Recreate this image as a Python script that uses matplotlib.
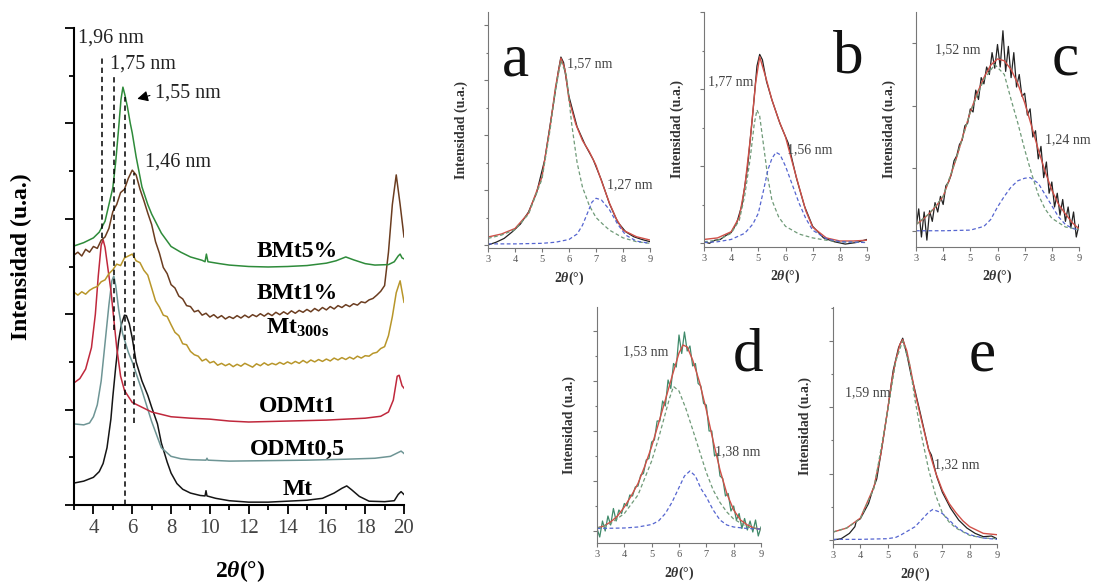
import numpy as np
import matplotlib
matplotlib.use('Agg')
import matplotlib.pyplot as plt
from matplotlib.ticker import MultipleLocator

plt.rcParams['font.family'] = ['Liberation Serif', 'DejaVu Serif']
plt.rcParams['mathtext.fontset'] = 'custom'
plt.rcParams['mathtext.rm'] = 'Liberation Serif'
plt.rcParams['mathtext.it'] = 'Liberation Serif:italic:bold'
plt.rcParams['mathtext.bf'] = 'Liberation Serif:bold'

# ---------------- main panel data (2theta, stacked intensity) ----------------
mt_x = [3.0, 3.5, 4.0, 4.3, 4.5, 4.7, 4.9, 5.0, 5.15, 5.3, 5.45, 5.6, 5.7, 5.85, 6.0, 6.2, 6.5,
        6.8, 7.0, 7.3, 7.5, 7.8, 8.0, 8.3, 8.6, 9.0, 9.5, 9.75, 9.8, 9.85, 10.3, 11, 12, 13, 14,
        15, 15.8, 16.4, 16.8, 17.05, 17.3, 17.7, 18.2, 19.0, 19.5, 19.7, 19.85, 20.0]
mt_y = [0.46, 0.5, 0.58, 0.7, 0.87, 1.2, 1.8, 2.27, 2.9, 3.45, 3.8, 3.98, 3.97, 3.8, 3.5, 3.0, 2.6,
        2.3, 2.05, 1.7, 1.3, 0.9, 0.67, 0.45, 0.33, 0.25, 0.2, 0.19, 0.3, 0.19, 0.14, 0.09, 0.06, 0.06, 0.08,
        0.1, 0.14, 0.25, 0.35, 0.4, 0.32, 0.18, 0.08, 0.07, 0.09, 0.22, 0.28, 0.22]

odmt05_x = [3.0, 3.5, 3.8, 4.0, 4.2, 4.4, 4.6, 4.8, 4.95, 5.05, 5.15, 5.3, 5.5, 5.8, 6.0, 6.5, 7.0,
            7.5, 8.0, 8.5, 9.0, 9.8, 9.85, 9.9, 11, 13, 15, 17, 18.5, 19.3, 19.7, 19.85, 20.0]
odmt05_y = [1.7, 1.68, 1.72, 1.85, 2.1, 2.6, 3.4, 4.2, 4.7, 4.8, 4.6, 4.1, 3.6, 3.2, 3.0, 2.4, 1.75,
            1.2, 1.02, 0.97, 0.95, 0.94, 0.98, 0.94, 0.92, 0.93, 0.94, 0.96, 0.98, 1.02, 1.1, 1.13, 1.08]

odmt1_x = [3.0, 3.3, 3.6, 3.9, 4.1, 4.25, 4.4, 4.5, 4.6, 4.75, 4.9, 5.05, 5.2, 5.4, 5.6, 6.0, 6.5,
           7.0, 8.0, 9.0, 10, 11, 12, 13, 14, 15, 16, 17, 18, 18.8, 19.2, 19.45, 19.65, 19.75, 19.9, 20.0]
odmt1_y = [2.56, 2.65, 2.85, 3.3, 4.0, 4.8, 5.45, 5.56, 5.4, 4.95, 4.5, 3.9, 3.3, 2.7, 2.4, 2.15, 2.05,
           1.95, 1.85, 1.82, 1.8, 1.76, 1.74, 1.75, 1.76, 1.77, 1.78, 1.8, 1.82, 1.86, 1.95, 2.2, 2.7, 2.72, 2.5, 2.45]

grid02 = np.round(np.arange(3.0, 20.01, 0.2), 1)
mt300_y = [4.46, 4.40, 4.47, 4.42, 4.50, 4.55, 4.58, 4.68, 4.72, 4.85, 4.93, 5.05, 5.02, 5.18, 5.22,
           5.26, 5.12, 5.08, 4.92, 4.82, 4.55, 4.28, 4.15, 3.98, 3.95, 3.78, 3.62, 3.55, 3.38, 3.36,
           3.22, 3.15, 3.12, 3.02, 3.06, 2.98, 3.01, 2.93, 2.97, 2.92, 2.96, 2.90, 2.95, 2.91, 2.97,
           2.93, 2.89, 2.96, 2.92, 2.98, 2.93, 2.97, 2.94, 2.99, 2.95, 3.00, 2.96, 3.01, 2.97, 3.03,
           2.98, 3.04, 3.00, 3.05, 3.01, 3.06, 3.02, 3.08, 3.04, 3.09, 3.05, 3.10, 3.06, 3.12, 3.08,
           3.13, 3.12, 3.18, 3.20, 3.28, 3.32, 3.55, 3.95, 4.45, 4.70, 4.25]
bmt1_y = [5.24, 5.30, 5.22, 5.36, 5.30, 5.42, 5.38, 5.55, 5.62, 5.80, 6.15, 6.30, 6.55, 6.62, 6.85,
          7.02, 6.92, 6.62, 6.38, 6.12, 5.88, 5.52, 5.28, 4.98, 4.85, 4.62, 4.55, 4.38, 4.32, 4.18,
          4.16, 4.05, 4.08, 3.98, 4.02, 3.94, 3.99, 3.92, 3.97, 3.90, 3.95, 3.91, 3.97, 3.92, 3.98,
          3.93, 3.99, 3.95, 4.01, 3.96, 4.02, 3.97, 4.04, 3.99, 4.05, 4.00, 4.07, 4.02, 4.08, 4.04,
          4.10, 4.05, 4.12, 4.07, 4.14, 4.09, 4.16, 4.11, 4.18, 4.14, 4.20, 4.16, 4.22, 4.19, 4.26,
          4.24, 4.30, 4.33, 4.40, 4.48, 4.60, 5.30, 6.30, 6.92, 6.30, 5.62]

bmt5_x = [3.0, 3.5, 4.0, 4.3, 4.6, 4.8, 5.0, 5.15, 5.3, 5.42, 5.52, 5.62, 5.75, 5.9, 6.0, 6.2, 6.5,
          6.8, 7.0, 7.5, 8.0, 8.5, 9.0, 9.6, 9.75, 9.82, 9.9, 10.5, 11, 12, 13, 14, 15, 16, 16.5, 17.0,
          17.4, 18.0, 18.5, 19.2, 19.5, 19.7, 19.8, 19.9, 20.0]
bmt5_y = [5.43, 5.5, 5.6, 5.72, 5.95, 6.3, 6.65, 7.2, 7.9, 8.5, 8.76, 8.6, 8.35, 8.0, 7.8, 7.3, 6.67,
          6.3, 6.1, 5.7, 5.42, 5.3, 5.2, 5.13, 5.1, 5.26, 5.1, 5.06, 5.03, 5.0, 4.99, 5.0, 5.02, 5.07, 5.12, 5.2,
          5.14, 5.06, 5.03, 5.04, 5.1, 5.22, 5.26, 5.18, 5.16]

series_names = ['BMt5%', 'BMt1%', 'Mt$_{\\mathbf{300s}}$', 'ODMt1', 'ODMt0,5', 'Mt']
series_label_y = [5.2, 4.32, 3.6, 1.95, 1.05, 0.21]
peak_lines_x = [4.44, 5.06, 5.63, 6.1]
peak_lines_top = [9.43, 8.97, 8.55, 6.96]
peak_lines_bottom = [5.6, 3.67, 0.0, 1.72]
peak_texts = ['1,96 nm', '1,75 nm', '1,55 nm', '1,46 nm']
peak_text_pos = [(3.21, 9.69), (4.86, 9.16), (7.18, 8.55), (6.66, 7.09)]

# ---------------- deconvolution panels ----------------
grid01 = np.round(np.arange(3.0, 9.01, 0.1), 1)

a_fit_x = [3.0, 3.5, 4.0, 4.5, 5.0, 5.3, 5.5, 5.7, 5.85, 6.0, 6.25, 6.5, 6.75, 7.0, 7.25, 7.5, 7.75, 8.0, 8.5, 9.0]
a_fit_y = [0.145, 0.2, 0.3, 0.58, 1.24, 2.15, 2.87, 3.4, 3.2, 2.64, 2.2, 1.9, 1.7, 1.45, 1.1, 0.76, 0.48, 0.27, 0.15, 0.09]
a_dat_x = [3.0, 3.3, 3.6, 3.9, 4.2, 4.5, 4.8, 5.1, 5.4, 5.6, 5.7, 5.8, 6.0, 6.3, 6.6, 6.9, 7.2, 7.5, 7.8, 8.1, 8.4, 8.7, 9.0]
a_dat_y = [0.0, 0.05, 0.12, 0.24, 0.38, 0.6, 0.95, 1.55, 2.5, 3.15, 3.42, 3.32, 2.7, 2.15, 1.82, 1.55, 1.18, 0.75, 0.42, 0.24, 0.15, 0.1, 0.06]
a_p1_x = [3.0, 3.5, 4.0, 4.5, 5.0, 5.3, 5.5, 5.7, 5.9, 6.1, 6.3, 6.5, 6.75, 7.0, 7.25, 7.5, 8.0, 8.5, 9.0]
a_p1_y = [0.12, 0.18, 0.28, 0.56, 1.2, 2.1, 2.82, 3.35, 3.1, 2.2, 1.5, 1.05, 0.72, 0.5, 0.38, 0.27, 0.13, 0.06, 0.03]
a_p2_x = [3.0, 4.0, 5.0, 5.5, 6.0, 6.3, 6.5, 6.7, 6.85, 7.0, 7.2, 7.5, 7.8, 8.1, 8.5, 9.0]
a_p2_y = [0.02, 0.02, 0.03, 0.05, 0.1, 0.2, 0.36, 0.6, 0.78, 0.85, 0.82, 0.64, 0.38, 0.18, 0.07, 0.03]

b_fit_x = [3.0, 3.5, 4.0, 4.3, 4.5, 4.7, 4.9, 5.05, 5.3, 5.5, 5.75, 6.0, 6.25, 6.5, 6.75, 7.0, 7.5, 8.0, 8.5, 9.0]
b_fit_y = [0.05, 0.07, 0.15, 0.34, 0.73, 1.34, 2.08, 2.42, 2.12, 1.86, 1.6, 1.38, 1.05, 0.73, 0.42, 0.21, 0.07, 0.03, 0.03, 0.04]
b_dat_x = [3.0, 3.2, 3.4, 3.6, 3.8, 4.0, 4.2, 4.4, 4.6, 4.8, 4.95, 5.05, 5.15, 5.3, 5.5, 5.8, 6.1, 6.4,
           6.7, 7.0, 7.4, 7.8, 8.2, 8.6, 9.0]
b_dat_y = [0.02, 0.0, 0.04, 0.05, 0.1, 0.14, 0.26, 0.5, 0.98, 1.7, 2.3, 2.45, 2.38, 2.1, 1.86, 1.55, 1.3, 0.85,
           0.48, 0.22, 0.07, 0.02, -0.01, 0.01, 0.05]
b_p1_x = [3.0, 3.5, 4.0, 4.3, 4.5, 4.7, 4.85, 4.95, 5.05, 5.2, 5.35, 5.5, 5.75, 6.0, 6.5, 7.0, 7.5, 8.0, 9.0]
b_p1_y = [0.02, 0.04, 0.13, 0.3, 0.62, 1.1, 1.55, 1.73, 1.65, 1.25, 0.85, 0.56, 0.34, 0.22, 0.12, 0.07, 0.04, 0.02, 0.01]
b_p2_x = [3.0, 3.5, 4.0, 4.5, 4.8, 5.0, 5.2, 5.35, 5.5, 5.65, 5.8, 6.0, 6.25, 6.5, 6.75, 7.0, 7.5, 8.0, 9.0]
b_p2_y = [0.01, 0.02, 0.05, 0.13, 0.25, 0.39, 0.7, 0.95, 1.1, 1.18, 1.15, 1.0, 0.76, 0.52, 0.32, 0.17, 0.06, 0.02, 0.01]

c_fit_x = [3.0, 3.25, 3.5, 3.75, 4.0, 4.25, 4.5, 4.75, 5.0, 5.25, 5.5, 5.75, 6.0, 6.25, 6.5, 6.75, 7.0,
           7.25, 7.5, 7.75, 8.0, 8.25, 8.5, 8.75, 9.0]
c_fit_y = [0.1, 0.18, 0.28, 0.4, 0.55, 0.85, 1.18, 1.55, 1.9, 2.2, 2.45, 2.65, 2.75, 2.72, 2.58, 2.35, 2.05,
           1.68, 1.3, 0.95, 0.65, 0.42, 0.27, 0.13, 0.03]
c_dat_y = [0.05, 0.35, -0.1, 0.3, -0.15, 0.32, 0.15, 0.45, 0.3, 0.55, 0.42, 0.72, 0.78, 0.9, 1.12, 1.2,
           1.38, 1.45, 1.68, 1.72, 1.95, 1.9, 2.25, 2.1, 2.45, 2.35, 2.62, 2.5, 2.85, 2.6, 2.98, 2.62,
           3.2, 2.55, 2.95, 2.45, 2.85, 2.3, 2.5, 2.15, 2.2, 1.85, 1.95, 1.5, 1.6, 1.15, 1.35, 0.85,
           1.1, 0.6, 0.78, 0.38, 0.6, 0.25, 0.5, 0.15, 0.38, 0.05, 0.3, -0.1, 0.1]
c_p1_x = [3.0, 3.5, 4.0, 4.5, 5.0, 5.5, 5.9, 6.25, 6.5, 6.75, 7.0, 7.25, 7.5, 7.75, 8.0, 8.5, 9.0]
c_p1_y = [0.1, 0.28, 0.55, 1.18, 1.9, 2.42, 2.66, 2.5, 2.1, 1.72, 1.3, 0.92, 0.58, 0.35, 0.2, 0.06, 0.02]
c_p2_x = [3.0, 4.0, 5.0, 5.5, 5.75, 6.0, 6.25, 6.5, 6.75, 7.0, 7.2, 7.5, 7.75, 8.0, 8.25, 8.5, 8.75, 9.0]
c_p2_y = [0.0, 0.0, 0.01, 0.07, 0.18, 0.38, 0.55, 0.7, 0.8, 0.84, 0.85, 0.76, 0.58, 0.4, 0.22, 0.1, 0.04, 0.01]

d_fit_x = [3.0, 3.25, 3.5, 3.75, 4.0, 4.25, 4.5, 4.75, 5.0, 5.25, 5.5, 5.75, 6.0, 6.15, 6.3, 6.5, 6.75,
           7.0, 7.25, 7.5, 7.75, 8.0, 8.25, 8.5, 8.75, 9.0]
d_fit_y = [0.06, 0.1, 0.18, 0.3, 0.48, 0.7, 0.95, 1.3, 1.69, 2.15, 2.62, 3.1, 3.56, 3.72, 3.68, 3.42, 2.98,
           2.42, 1.8, 1.22, 0.75, 0.42, 0.22, 0.12, 0.06, 0.03]
d_dat_y = [0.05, -0.12, 0.2, 0.0, 0.3, 0.12, 0.45, 0.2, 0.42, 0.35, 0.55, 0.5, 0.72, 0.7, 0.88, 0.9,
           1.12, 1.15, 1.42, 1.45, 1.78, 1.82, 2.2, 2.2, 2.6, 2.5, 3.02, 2.85, 3.35, 3.28, 3.92, 3.55,
           3.98, 3.6, 3.7, 3.3, 3.35, 2.95, 2.9, 2.55, 2.52, 2.0, 2.0, 1.5, 1.55, 1.1, 1.05, 0.7,
           0.75, 0.4, 0.5, 0.22, 0.35, 0.05, 0.25, 0.02, 0.2, -0.02, 0.22, -0.1, 0.08]
d_p1_x = [3.0, 3.5, 4.0, 4.5, 5.0, 5.25, 5.5, 5.65, 5.8, 6.0, 6.25, 6.5, 6.75, 7.0, 7.25, 7.5, 7.75, 8.0, 8.5, 9.0]
d_p1_y = [0.06, 0.15, 0.35, 0.72, 1.4, 1.85, 2.35, 2.65, 2.89, 2.8, 2.45, 2.03, 1.6, 1.17, 0.82, 0.57, 0.38, 0.24, 0.08, 0.03]
d_p2_x = [3.0, 4.0, 4.5, 5.0, 5.25, 5.5, 5.75, 6.0, 6.2, 6.4, 6.6, 6.8, 7.0, 7.25, 7.5, 7.75, 8.0, 8.5, 9.0]
d_p2_y = [0.05, 0.06, 0.08, 0.13, 0.2, 0.35, 0.58, 0.87, 1.1, 1.2, 1.1, 0.85, 0.68, 0.42, 0.22, 0.12, 0.08, 0.05, 0.04]

e_fit_x = [3.0, 3.5, 4.0, 4.5, 4.75, 5.0, 5.15, 5.3, 5.45, 5.55, 5.7, 5.85, 6.0, 6.25, 6.5, 6.75, 7.0,
           7.25, 7.5, 7.75, 8.0, 8.5, 9.0]
e_fit_y = [0.12, 0.18, 0.33, 0.8, 1.3, 1.96, 2.4, 2.71, 2.95, 3.02, 2.85, 2.55, 2.22, 1.78, 1.36, 1.02, 0.75,
           0.55, 0.41, 0.29, 0.2, 0.1, 0.08]
e_dat_x = [3.0, 3.3, 3.6, 3.8, 3.85, 4.0, 4.3, 4.45, 4.6, 4.8, 5.0, 5.2, 5.4, 5.55, 5.7, 5.85, 6.0, 6.2,
           6.5, 6.6, 6.8, 7.0, 7.3, 7.6, 7.9, 8.2, 8.5, 8.8, 9.0]
e_dat_y = [0.0, 0.02, 0.1, 0.2, 0.28, 0.32, 0.55, 0.75, 0.92, 1.42, 1.96, 2.55, 2.9, 3.04, 2.8, 2.5, 2.25, 1.9,
           1.36, 1.28, 0.95, 0.72, 0.48, 0.3, 0.18, 0.1, 0.05, 0.06, 0.02]
e_p1_x = [3.0, 3.5, 4.0, 4.5, 5.0, 5.3, 5.55, 5.8, 6.0, 6.25, 6.5, 6.75, 7.0, 7.25, 7.5, 8.0, 8.5, 9.0]
e_p1_y = [0.12, 0.18, 0.32, 0.78, 1.94, 2.7, 3.0, 2.65, 2.11, 1.55, 1.06, 0.68, 0.41, 0.27, 0.18, 0.07, 0.03, 0.02]
e_p2_x = [3.0, 4.0, 5.0, 5.3, 5.5, 5.75, 6.0, 6.3, 6.5, 6.65, 6.85, 7.0, 7.25, 7.5, 7.75, 8.0, 8.5, 9.0]
e_p2_y = [0.01, 0.01, 0.02, 0.04, 0.08, 0.14, 0.2, 0.33, 0.42, 0.46, 0.43, 0.4, 0.3, 0.2, 0.13, 0.08, 0.03, 0.01]

# ---------------- figure ----------------
fig = plt.figure(figsize=(10.95, 5.87), dpi=100)
W, H = 1095.0, 587.0


def box(l, t, r, b):
    return [l / W, 1 - b / H, (r - l) / W, (b - t) / H]


ax = fig.add_axes(box(74, 28, 404, 505))
ax.plot(mt_x, mt_y, color='#151515', lw=1.1)
ax.plot(odmt05_x, odmt05_y, color='#6e9595', lw=1.1)
ax.plot(odmt1_x, odmt1_y, color='#c0283c', lw=1.1)
ax.plot(grid02, mt300_y, color='#b8962a', lw=1.1)
ax.plot(grid02, bmt1_y, color='#6b3d20', lw=1.1)
ax.plot(bmt5_x, bmt5_y, color='#2e8b3a', lw=1.1)
for xv, top, bot in zip(peak_lines_x, peak_lines_top, peak_lines_bottom):
    ax.plot([xv, xv], [bot, top], color='k', lw=1.1, ls=(0, (3.5, 2.5)))
for t, (tx, ty) in zip(peak_texts, peak_text_pos):
    ax.text(tx, ty, t, fontsize=14.5, color='#222', ha='left', va='baseline')
ax.annotate('', xy=(6.12, 8.5), xytext=(7.05, 8.6),
            arrowprops=dict(arrowstyle='-|>', color='k', lw=0.8, mutation_scale=16))
for name, ly in zip(series_names, series_label_y):
    ax.text(14.5, ly, name, fontsize=17, fontweight='bold', ha='center', va='baseline')

ax.set_xlim(3, 20)
ax.set_ylim(0, 10)
for s in ['top', 'right']:
    ax.spines[s].set_visible(False)
for s in ['left', 'bottom']:
    ax.spines[s].set_linewidth(1.5)
ax.xaxis.set_minor_locator(MultipleLocator(1))
ax.yaxis.set_major_locator(MultipleLocator(2))
ax.yaxis.set_minor_locator(MultipleLocator(1))
ax.set_xticks([4, 6, 8, 10, 12, 14, 16, 18, 20])
ax.tick_params(axis='both', which='major', direction='out', length=6.5, width=1.3,
               labelsize=15, labelcolor='#444')
ax.tick_params(axis='both', which='minor', direction='out', length=3.5, width=1.3)
ax.tick_params(axis='y', labelleft=False)
ax.set_ylabel('Intensidad (u.a.)', fontsize=17, fontweight='bold')
ax.yaxis.set_label_coords(-0.128, 0.52)
ax.set_xlabel('2$\\theta$(°)', fontsize=17, fontweight='bold')
ax.xaxis.set_label_coords(0.503, -0.112)

fit_c = '#d05048'
p1_c = '#6f9a78'
p2_c = '#5565d0'


def small(rect, ylim, minor, data_x, data_y, data_c, fit_x, fit_y, p1x, p1y, p2x, p2y,
          letter, letter_xy, labels):
    a = fig.add_axes(rect)
    a.plot(data_x, data_y, color=data_c, lw=0.9)
    a.plot(fit_x, fit_y, color=fit_c, lw=1.0)
    a.plot(p1x, p1y, color=p1_c, lw=0.9, ls=(0, (3, 2)))
    a.plot(p2x, p2y, color=p2_c, lw=0.9, ls=(0, (3, 2)))
    a.set_xlim(3, 9)
    a.set_ylim(*ylim)
    for s in ['top', 'right']:
        a.spines[s].set_visible(False)
    for s in ['left', 'bottom']:
        a.spines[s].set_color('#777')
        a.spines[s].set_linewidth(0.8)
    a.set_xticks([3, 4, 5, 6, 7, 8, 9])
    a.yaxis.set_major_locator(MultipleLocator(1))
    if minor:
        a.yaxis.set_minor_locator(MultipleLocator(0.5))
    a.tick_params(axis='both', which='major', direction='out', length=3, width=0.8,
                  color='#777', labelsize=7.5, labelcolor='#555', pad=2)
    a.tick_params(axis='y', which='minor', direction='out', length=1.8, width=0.8, color='#777')
    a.tick_params(axis='y', labelleft=False)
    a.set_ylabel('Intensidad (u.a.)', fontsize=10, fontweight='bold', color='#333')
    a.yaxis.set_label_coords(-0.125, 0.5)
    a.set_xlabel('2$\\theta$(°)', fontsize=10, fontweight='bold', color='#333')
    a.xaxis.set_label_coords(0.5, -0.09)
    a.text(letter_xy[0], letter_xy[1], letter, fontsize=44, ha='center', va='baseline', color='#111')
    for t, tx, ty in labels:
        a.text(tx, ty, t, fontsize=10, color='#444', ha='left', va='center')
    return a


small(box(488, 12, 650, 248), (-0.055, 4.24), True, a_dat_x, a_dat_y, '#222',
      a_fit_x, a_fit_y, a_p1_x, a_p1_y, a_p2_x, a_p2_y, 'a', (4.0, 3.09),
      [('1,57 nm', 5.93, 3.3), ('1,27 nm', 7.4, 1.09)])
small(box(704, 12, 867, 247), (-0.048, 3.0), True, b_dat_x, b_dat_y, '#222',
      b_fit_x, b_fit_y, b_p1_x, b_p1_y, b_p2_x, b_p2_y, 'b', (8.3, 2.21),
      [('1,77 nm', 3.15, 2.09), ('1,56 nm', 6.05, 1.21)])
small(box(916, 12, 1079, 247), (-0.26, 3.5), False, grid01, c_dat_y, '#222',
      c_fit_x, c_fit_y, c_p1_x, c_p1_y, c_p2_x, c_p2_y, 'c', (8.51, 2.5),
      [('1,52 nm', 3.7, 2.9), ('1,24 nm', 7.75, 1.45)])
small(box(597, 307, 761, 543), (-0.24, 4.48), True, grid01, d_dat_y, '#3f8a6a',
      d_fit_x, d_fit_y, d_p1_x, d_p1_y, d_p2_x, d_p2_y, 'd', (8.53, 3.22),
      [('1,53 nm', 3.95, 3.58), ('1,38 nm', 7.3, 1.58)])
small(box(833, 307, 997, 544), (-0.06, 3.51), True, e_dat_x, e_dat_y, '#222',
      e_fit_x, e_fit_y, e_p1_x, e_p1_y, e_p2_x, e_p2_y, 'e', (8.46, 2.56),
      [('1,59 nm', 3.45, 2.22), ('1,32 nm', 6.7, 1.13)])

fig.savefig('out.png', dpi=100)
